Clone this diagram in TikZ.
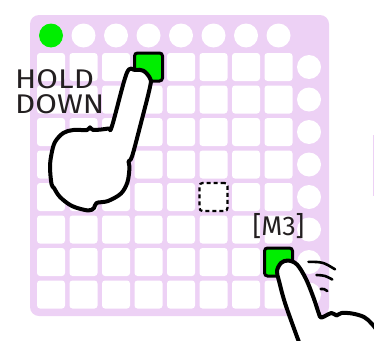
\documentclass[tikz,border=0pt]{standalone}
\usepackage{fontspec}
\setmainfont{Fira Sans}
\newfontfamily\wideface{Fira Sans}[FakeStretch=1.16]
\usetikzlibrary{positioning}

\definecolor{padbg}{HTML}{EDD1F5}
\definecolor{litgreen}{HTML}{00EE00}
\definecolor{ink}{HTML}{231F20}

\tikzset{
  board/.style={fill=padbg, rounded corners=9pt, minimum width=299pt, minimum height=301pt, inner sep=0pt},
  pad/.style={fill=white, rounded corners=3pt, minimum size=28pt, inner sep=0pt},
  btn/.style={circle, fill=white, minimum size=24pt, inner sep=0pt},
  heldpad/.style={draw=black, line width=3pt, fill=litgreen, rounded corners=3pt, minimum size=28pt, inner sep=0pt},
  ghostpad/.style={pad, draw=black, line width=2.2pt, dash pattern=on 4pt off 3pt},
  hand/.style={draw=black, fill=white, line width=4pt, line join=round},
  swish/.style={draw=black, line width=2.6pt, line cap=round},
  lbl/.style={text=ink, inner sep=0pt, font=\fontsize{27}{30}\selectfont},
}

\begin{document}
\begin{tikzpicture}[x=1pt, y=-1pt]
        \useasboundingbox (0,0) rectangle (374,340);

        % board and pads
        \node[board] (board) at (179.5,165.5) {};
        \foreach \c in {0,...,7} {
            \foreach \r in {0,...,7}
                \node[pad] (pad-\c-\r) at ({51+32.5*\c},{67+32.5*\r}) {};
            \node[btn] (top-\c) at ({51+32.5*\c},35.5) {};
            \node[btn] (side-\c) at (309,{67+32.5*\c}) {};
        }
        \node[btn, fill=litgreen] (top-lit) at (top-0) {};

        % edge of the next board
        \fill[padbg] (372.8,135) rectangle (374,196);

        % pressed and ghost pads
        \node[heldpad] (hold) at (pad-3-0) {};
        \node[ghostpad] (ghost) at (pad-5-4) {};
        \node[heldpad] (tap) at (pad-7-6) {};

        % labels
        \node[lbl, font=\wideface\fontsize{27}{30}\selectfont, anchor=base west] (hold-txt) at (15,88) {HOLD};
        \node[lbl, font=\wideface\fontsize{27}{30}\selectfont, anchor=base west] (down-txt) at (15,113) {DOWN};
        \node[lbl, anchor=base] (m3-txt) at (278.5,235) {[M3]};

        % left hand, holding
        \draw[hand] plot[smooth cycle, tension=0.55] coordinates {
            (126.7,73.3) (112,126) (108.3,128.5) (93.3,130) (90,127.3) (87,130)
            (73.3,130) (63.3,133) (55,142) (51.5,154) (50,167) (51.5,184)
            (54,188) (60,197) (72,206) (88,210.5) (94,208) (96.5,203) (108,201)
            (121,193.5) (127.5,182) (129.5,167) (128.5,161.5) (132,156.5)
            (140,126.7) (150,87) (150,78.3) (143.3,70.7) (135,70)
        };

        % right hand, tapping
        \begin{scope}
            \clip (0,0) rectangle (374,340);
            \draw[hand] plot[smooth, tension=0.55] coordinates {
                (302,350) (296,334) (285,303) (279,281) (277,271) (281,263)
                (288,260.5) (297,264.5) (306,279) (314,299) (319,314) (321.5,317.5)
                (331.5,313) (336.5,315.5) (341.5,313) (352,313.5) (364,317)
                (372,324) (380,335) (386,350)
            };
        \end{scope}

        % motion strokes
        \draw[swish] (308.5,261.8) .. controls (323,262) .. (335,269.3);
        \draw[swish] (316.5,275) .. controls (325,275.5) .. (332.3,279.5);
        \draw[swish] (320.7,289) .. controls (324.5,289) .. (327.3,291);
    \end{tikzpicture}
\end{document}
